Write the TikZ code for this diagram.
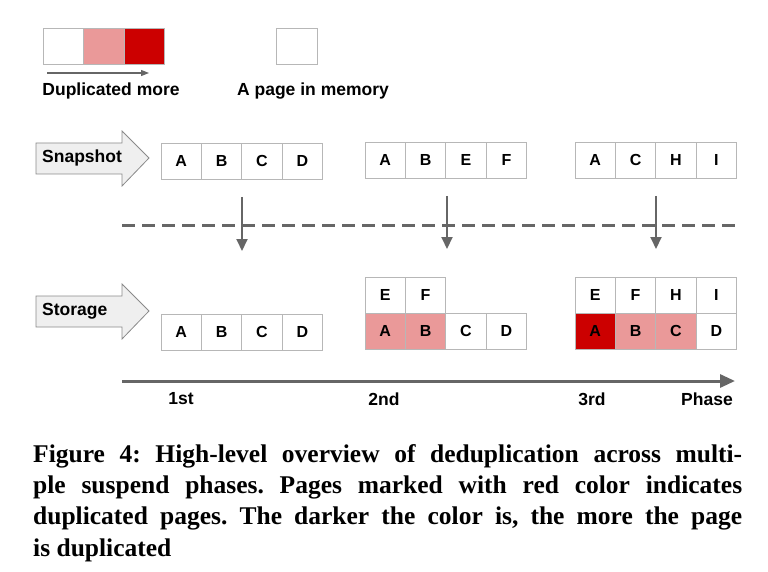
\documentclass[tikz,border=0pt]{standalone}
\usepackage{fontspec}
\setmainfont{Liberation Serif}
\setsansfont{Liberation Sans}
\usetikzlibrary{arrows.meta}
\definecolor{pinkcell}{HTML}{EA9999}
\definecolor{redcell}{HTML}{CC0000}
\definecolor{cellborder}{HTML}{B7B7B7}
\definecolor{linegray}{HTML}{666666}
\definecolor{blockfill}{HTML}{EFEFEF}
\definecolor{blockdraw}{HTML}{8A8A8A}
\tikzset{
  cell/.style={draw=cellborder, line width=0.8pt, minimum width=40.4pt, minimum height=36pt, inner sep=0pt,
    font=\sffamily\bfseries\fontsize{16}{16}\selectfont, text=black},
  lbl/.style={font=\sffamily\bfseries\fontsize{17.5}{17.5}\selectfont, inner sep=0pt},
  blockarrow/.style={draw=blockdraw, fill=blockfill, line width=0.8pt},
  flowarrow/.style={draw=linegray, line width=2pt, -{Triangle[length=12pt,width=11pt]}},
}
\begin{document}
\frenchspacing
\begin{tikzpicture}[x=1pt,y=-1pt]
\useasboundingbox (0,0) rectangle (768,572);
% legend
\node[cell, fill=white] (lg1) at (63.3,46) {};
\node[cell, fill=pinkcell] (lg2) at (103.7,46) {};
\node[cell, fill=redcell] (lg3) at (144.1,46) {};
\coordinate (lga) at (47,73);
\coordinate (lgb) at (149,73);
\draw[draw=linegray, line width=1.2pt, -{Triangle[length=8pt,width=6pt]}] (lga) -- (lgb);
\node[lbl] (dupl) at (111,91) {Duplicated more};
\node[cell] (mem) at (297,46) {};
\node[lbl] (meml) at (313,91) {A page in memory};
% block arrows
\draw[blockarrow] (36,143) -- (122,143) -- (122,131) -- (149,158) -- (122,186) -- (122,174) -- (36,174) -- cycle;
\node[lbl, anchor=west] (snap) at (42,158) {Snapshot};
\draw[blockarrow] (36,296) -- (122,296) -- (122,284) -- (149,311) -- (122,339) -- (122,327) -- (36,327) -- cycle;
\node[lbl, anchor=west] (stor) at (42,311) {Storage};
% snapshot rows
\foreach \l [count=\i] in {A,B,C,D}
  \node[cell] (sa\i) at ({161+40.4*(\i-0.5)},161) {\l};
\foreach \l [count=\i] in {A,B,E,F}
  \node[cell] (sb\i) at ({365+40.4*(\i-0.5)},160) {\l};
\foreach \l [count=\i] in {A,C,H,I}
  \node[cell] (sc\i) at ({575+40.4*(\i-0.5)},160) {\l};
% storage rows
\foreach \l [count=\i] in {A,B,C,D}
  \node[cell] (ta\i) at ({161+40.4*(\i-0.5)},332) {\l};
\node[cell, fill=pinkcell] (tb1) at (385.2,331) {A};
\node[cell, fill=pinkcell] (tb2) at (425.6,331) {B};
\node[cell] (tb3) at (466,331) {C};
\node[cell] (tb4) at (506.4,331) {D};
\node[cell] (tbe) at (385.2,295) {E};
\node[cell] (tbf) at (425.6,295) {F};
\node[cell, fill=redcell] (tc1) at (595.2,331) {A};
\node[cell, fill=pinkcell] (tc2) at (635.6,331) {B};
\node[cell, fill=pinkcell] (tc3) at (676,331) {C};
\node[cell] (tc4) at (716.4,331) {D};
\foreach \l [count=\i] in {E,F,H,I}
  \node[cell] (tt\i) at ({575+40.4*(\i-0.5)},295) {\l};
% dashed separator
\coordinate (dl) at (122,225);
\coordinate (dr) at (735,225);
\draw[draw=linegray, line width=3pt, dash pattern=on 13pt off 7pt] (dl) -- (dr);
% vertical arrows
\coordinate (a1s) at (242,197); \coordinate (a1e) at (242,251);
\coordinate (a2s) at (447,196); \coordinate (a2e) at (447,249);
\coordinate (a3s) at (656,196); \coordinate (a3e) at (656,249);
\draw[flowarrow] (a1s) -- (a1e);
\draw[flowarrow] (a2s) -- (a2e);
\draw[flowarrow] (a3s) -- (a3e);
% timeline
\coordinate (tl) at (122,381);
\coordinate (tr) at (735,381);
\draw[draw=linegray, line width=3pt, -{Triangle[length=15pt,width=13pt]}] (tl) -- (tr);
\node[lbl] (p1) at (181,399) {1st};
\node[lbl] (p2) at (384,399) {2nd};
\node[lbl] (p3) at (592,399) {3rd};
\node[lbl] (p4) at (707,399) {Phase};
% caption
\node[anchor=north west, inner sep=0pt, text width=709pt, align=justify,
  font=\rmfamily\bfseries\fontsize{25.5}{31.3}\selectfont] (cap) at (33,444)
  {Figure 4: High-level overview of deduplication across multi-\linebreak
   ple suspend phases. Pages marked with red color indicates\linebreak
   duplicated pages. The darker the color is, the more the page\linebreak
   is duplicated};
\end{tikzpicture}
\end{document}
